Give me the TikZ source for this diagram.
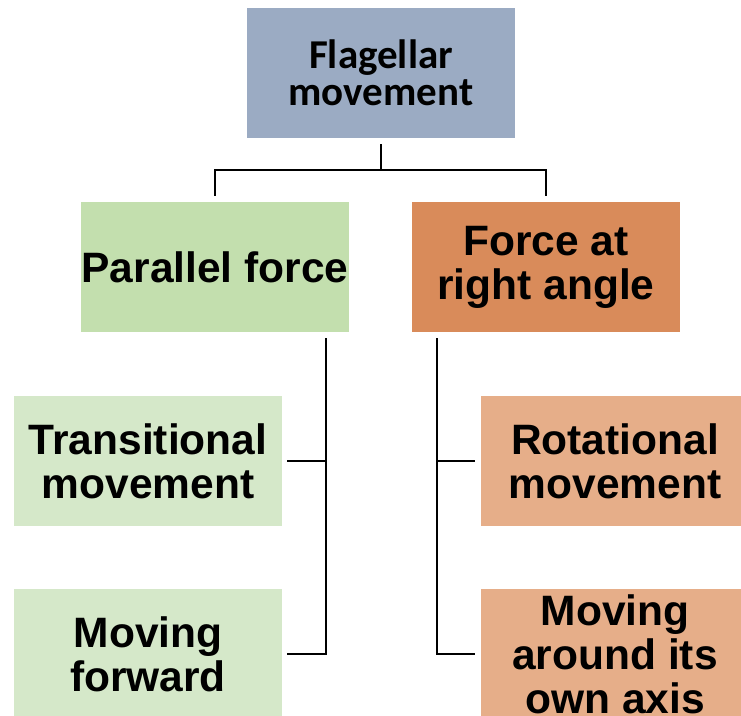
\documentclass[tikz,border=0pt]{standalone}
\usepackage{fontspec}
\setmainfont{Liberation Sans}
\newfontfamily\titlefont{Carlito}

\definecolor{topblue}{HTML}{9BABC3}
\definecolor{pargreen}{HTML}{C3DFAE}
\definecolor{forceorange}{HTML}{D98B5A}
\definecolor{lightgreen}{HTML}{D5E8C9}
\definecolor{lightorange}{HTML}{E6AE89}

\begin{document}
\begin{tikzpicture}[x=1pt,y=-1pt,
  box/.style={minimum width=268pt,minimum height=130pt,inner sep=0pt,align=center,
    font=\fontsize{42.5}{44}\selectfont\bfseries},
  conn/.style={line width=2pt,black}]

\clip (0,0) rectangle (741,715);

\node[box,fill=topblue,font=\titlefont\fontsize{41}{37}\selectfont\bfseries] (flag) at (381,73) {Flagellar\\movement};

\node[box,fill=pargreen] (par) at (215,267) {Parallel force};
\node[box,fill=forceorange] (force) at (546,267) {Force at\\right angle};

\node[box,fill=lightgreen] (trans) at (148,461) {Transitional\\movement};
\node[box,fill=lightgreen] (fwd) at (148,654) {Moving\\forward};

\node[box,fill=lightorange] (rot) at (615,461) {Rotational\\movement};
\node[box,fill=lightorange] (axis) at (615,654) {Moving\\around its\\own axis};

\draw[conn] ([yshift=-6pt]flag.south) -- ([yshift=-32pt]flag.south) coordinate (fork);
\draw[conn] ([yshift=6pt]par.north) |- (fork) -| ([yshift=6pt]force.north);

\coordinate (ltrunk) at ([xshift=-23pt,yshift=-6pt]par.south east);
\draw[conn] (ltrunk) |- ([xshift=5pt]fwd.east);
\draw[conn] ([xshift=5pt]trans.east) -- (trans.east -| ltrunk);

\coordinate (rtrunk) at ([xshift=25pt,yshift=-6pt]force.south west);
\draw[conn] (rtrunk) |- ([xshift=-6pt]axis.west);
\draw[conn] ([xshift=-6pt]rot.west) -- (rot.west -| rtrunk);

\end{tikzpicture}
\end{document}
